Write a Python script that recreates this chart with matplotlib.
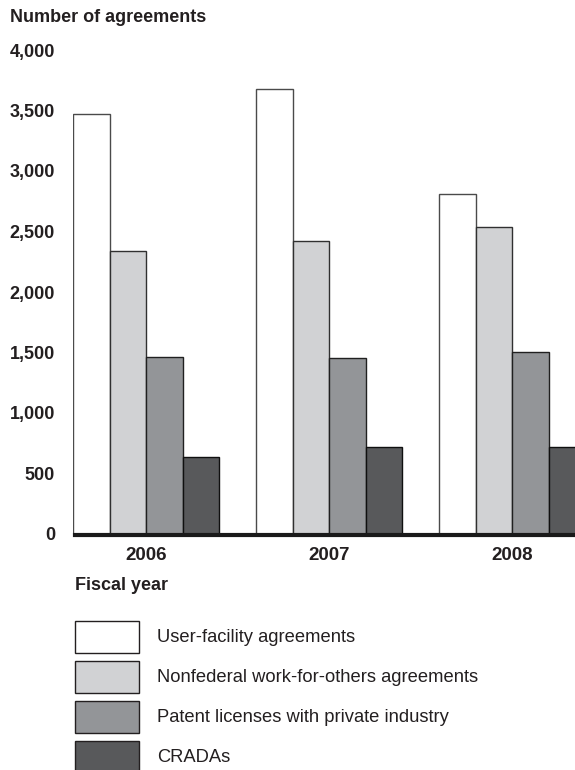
"""Agreements by fiscal year - grouped bar chart"""
import numpy as np
import matplotlib.pyplot as plt
from matplotlib.patches import Rectangle

plt.rcParams['font.family'] = ['Liberation Sans', 'DejaVu Sans']

years = ['2006', '2007', '2008']
series_names = ['User-facility agreements',
                'Nonfederal work-for-others agreements',
                'Patent licenses with private industry',
                'CRADAs']
user_facility = [3470, 3680, 2810]
work_for_others = [2340, 2425, 2540]
patent_licenses = [1460, 1452, 1504]
cradas = [634, 722, 716]
y_ticks = [0, 500, 1000, 1500, 2000, 2500, 3000, 3500, 4000]

colors = ['#ffffff', '#d1d2d4', '#939598', '#58595b']
edges = ['#4a4a4a', '#303030', '#202020', '#101010']

W, H = 575, 770
fig = plt.figure(figsize=(W / 100, H / 100), dpi=100)

# axes box in pixels: left 73, baseline at y=534, top (4000) at y=50
ax = fig.add_axes([73 / W, (H - 534) / H, (575 - 73) / W, (534 - 50) / H])

series = [user_facility, work_for_others, patent_licenses, cradas]
group = np.arange(len(years)) * 5
for i, vals in enumerate(series):
    ax.bar(group + i, vals, width=1, align='edge', color=colors[i],
           edgecolor=edges[i], linewidth=1.0, zorder=2)

ax.set_xlim(0, (575 - 73) / 36.6)
ax.set_ylim(0, 4000)
ax.axhline(-12, xmin=2 / 502, xmax=1, color='#1a1a1a', lw=3, zorder=3,
           clip_on=False)

ax.set_yticks(y_ticks)
ax.set_yticklabels([f'{v:,}' for v in y_ticks], fontweight='bold',
                   fontsize=13, color='#231f20')
ax.tick_params(axis='y', length=0, pad=13)
ax.set_xticks(group + 2)
ax.set_xticklabels(years, fontweight='bold', fontsize=13.5, color='#231f20')
ax.tick_params(axis='x', length=0, pad=9)
for s in ax.spines.values():
    s.set_visible(False)

fig.text(10 / W, 1 - 17 / H, 'Number of agreements', fontweight='bold',
         fontsize=13, va='center', color='#231f20')
fig.text(75 / W, 1 - 585 / H, 'Fiscal year', fontweight='bold',
         fontsize=13, va='center', color='#231f20')

# legend boxes
for i, name in enumerate(series_names):
    top = 621 + i * 40
    fig.add_artist(Rectangle((75 / W, 1 - (top + 32) / H), 64 / W, 32 / H,
                             transform=fig.transFigure, facecolor=colors[i],
                             edgecolor='#231f20', lw=1.0))
    fig.text(157 / W, 1 - (top + 16) / H, name, fontsize=13.2, va='center',
             color='#231f20')

fig.savefig('out.png', dpi=100)
